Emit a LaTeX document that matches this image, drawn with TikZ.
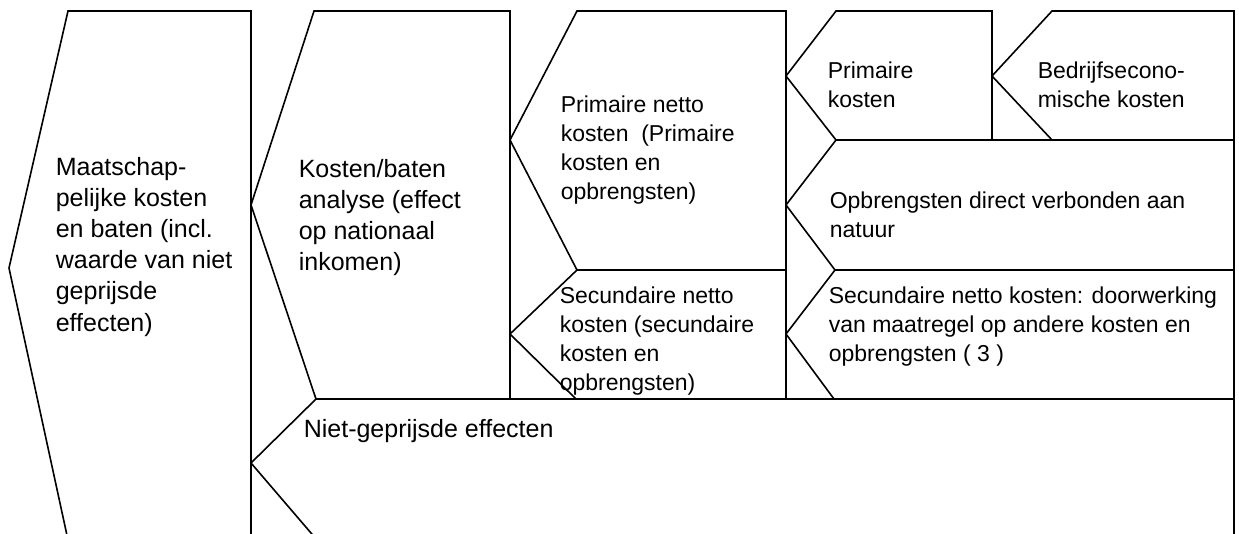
\documentclass[tikz,border=0pt]{standalone}
\usepackage{fontspec}
\setmainfont{Liberation Sans}
\newcommand\mylines[1]{\begin{tabular}[t]{@{}l@{}}#1\end{tabular}}
\begin{document}
\begin{tikzpicture}[x=0.75pt,y=-0.75pt, line width=1.2pt, line join=miter,
  outline/.style={draw=black},
  big/.style={anchor=base west, inner sep=0pt, font=\fontsize{18.75}{23.4}\selectfont},
  mid/.style={anchor=base west, inner sep=0pt, font=\fontsize{17.25}{21.9}\selectfont}]
\useasboundingbox (0,0) rectangle (1239,533);
% level 1
\draw[outline] (68,540) -- (9,268) -- (68,11) -- (251,11) -- (251,540);
% level 2
\draw[outline] (251,205) -- (314,11) -- (510,11) -- (510,399) -- (316,399) -- cycle;
\draw[outline] (316,399) -- (1234,399) -- (1234,540);
\draw[outline] (316,399) -- (251,463) -- (317,540);
% level 3
\draw[outline] (510,140) -- (577,11) -- (786,11) -- (786,270) -- (577,270) -- cycle;
\draw[outline] (510,334) -- (577,270) -- (786,270) -- (786,399) -- (576,399) -- cycle;
% level 4
\draw[outline] (786,76) -- (836,11) -- (992,11) -- (992,140) -- (836,140) -- cycle;
\draw[outline] (992,76) -- (1052,11) -- (1234,11) -- (1234,140) -- (1052,140) -- cycle;
\draw[outline] (786,205) -- (836,140) -- (1234,140) -- (1234,270) -- (835,270) -- cycle;
\draw[outline] (786,334) -- (835,270) -- (1234,270) -- (1234,399) -- (834,399) -- cycle;
% texts
\node[big] (t1) at (55,175) {\mylines{Maatschap-\\pelijke kosten\\en baten (incl.\\waarde van niet\\geprijsde\\effecten)}};
\node[big] (t2) at (298,177) {\mylines{Kosten/baten\\analyse (effect\\op nationaal\\inkomen)}};
\node[big] (t3) at (303,437) {Niet-geprijsde effecten};
\node[mid] (t4) at (560,112) {\mylines{Primaire netto\\kosten~ (Primaire\\kosten en\\opbrengsten)}};
\node[mid] (t5) at (559,303) {\mylines{Secundaire netto\\kosten (secundaire\\kosten en\\opbrengsten)}};
\node[mid] (t6) at (827,78) {\mylines{Primaire\\kosten}};
\node[mid] (t7) at (1037,78) {\mylines{Bedrijfsecono-\\mische kosten}};
\node[mid] (t8) at (829,208) {\mylines{Opbrengsten direct verbonden aan\\natuur}};
\node[mid] (t9) at (828,303) {\mylines{Secundaire netto kosten: doorwerking\\van maatregel op andere kosten en\\opbrengsten ( 3 )}};
\end{tikzpicture}
\end{document}
